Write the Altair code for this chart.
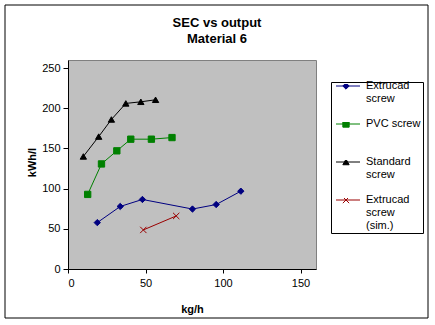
import json
import altair as alt
import pandas as pd

series = ["Extrucad screw", "PVC screw", "Standard screw", "Extrucad screw (sim.)"]
legend_lines = [["Extrucad   ", "screw"], ["PVC screw", " "], ["Standard   ", "screw"], ["Extrucad", "screw", "(sim.)"]]
colors = ["#000080", "#008000", "#000000", "#990000"]
shapes = ["diamond", "square", "triangle-up", "M-1,-1L1,1M1,-1L-1,1"]

ext_x = [18.9, 33.7, 48.0, 80.3, 95.6, 111.5]
ext_y = [57.7, 77.8, 86.5, 74.6, 80.2, 96.8]
pvc_x = [12.7, 21.6, 31.5, 40.5, 53.8, 67.1]
pvc_y = [92.8, 130.7, 147.0, 161.5, 161.5, 163.5]
std_x = [9.9, 19.8, 28.0, 37.3, 47.0, 56.5]
std_y = [140.0, 164.7, 186.0, 206.0, 208.0, 210.5]
sim_x = [48.6, 69.8]
sim_y = [48.6, 66.0]

x_ticks = [0, 50, 100, 150]
y_ticks = [0, 50, 100, 150, 200, 250]

rows = []
for name, xs, ys in zip(series, [ext_x, pvc_x, std_x, sim_x], [ext_y, pvc_y, std_y, sim_y]):
    for i, (a, b) in enumerate(zip(xs, ys)):
        rows.append({"series": name, "series_line": name, "idx": i, "x": a, "y": b})
df = pd.DataFrame(rows)

FONT = "Liberation Sans"
label_expr = "{" + ",".join(json.dumps(s) + ":" + json.dumps(l) for s, l in zip(series, legend_lines)) + "}[datum.label]"

xenc = alt.X("x:Q", scale=alt.Scale(domain=[0, 150]),
             axis=alt.Axis(values=x_ticks, title="kg/h", grid=False, domainColor="black", tickColor="black",
                           tickSize=4, labelPadding=4, titleX=124, titleY=40, titleBaseline="middle"))
yenc = alt.Y("y:Q", scale=alt.Scale(domain=[0, 250]),
             axis=alt.Axis(values=y_ticks, title="kWh/l", grid=False, domainColor="black", tickColor="black",
                           tickSize=5, labelPadding=3, titleX=-36, titleY=102, titleBaseline="middle",
                           titleAngle=-90))

scale_c = alt.Scale(domain=series, range=colors)
scale_s = alt.Scale(domain=series, range=shapes)

common_leg = dict(orient="none", legendX=263, legendY=22, title=None, labelExpr=label_expr,
                  labelFont=FONT, labelFontSize=11, rowPadding=14, padding=2, clipHeight=4)

line_leg = alt.Legend(symbolType="stroke", symbolSize=576, symbolStrokeWidth=1, symbolOffset=2.5,
                      labelOffset=7, labelColor="transparent", **common_leg)
pt_leg = alt.Legend(symbolSize=40, symbolOffset=7.5, labelOffset=14.5, labelColor="black",
                    strokeColor="black", symbolStrokeWidth=1, **common_leg)

base = alt.Chart(df)
lines = base.mark_line(strokeWidth=1).encode(
    x=xenc, y=yenc,
    color=alt.Color("series_line:N", scale=scale_c, legend=line_leg),
    order="idx:O",
)
points = base.mark_point(filled=True, opacity=1, strokeWidth=1, size=40).encode(
    x="x:Q", y="y:Q",
    fill=alt.Fill("series:N", scale=scale_c, legend=pt_leg),
    stroke=alt.Stroke("series:N", scale=scale_c, legend=pt_leg),
    shape=alt.Shape("series:N", scale=scale_s, legend=pt_leg),
)
frame = alt.Chart(pd.DataFrame({"a": [0]})).mark_rect(fill="transparent", stroke="black", strokeWidth=1).encode(
    x=alt.value(-63), x2=alt.value(360), y=alt.value(-55), y2=alt.value(258))

chart = alt.layer(lines, points, frame).resolve_scale(color="independent").properties(
    width=248, height=209,
    view=alt.ViewBackground(fill="#c0c0c0", stroke="#808080"),
    title=alt.TitleParams(["SEC vs output", "Material 6"], font=FONT, fontSize=13, fontWeight="bold",
                          anchor="middle", frame="group", dx=25, offset=-41, lineHeight=16),
    autosize=alt.AutoSizeParams(type="none"),
    padding={"left": 68, "top": 60, "right": 119, "bottom": 56},
).configure_view(fill="#c0c0c0", stroke="#808080").configure_axis(
    labelFont=FONT, labelFontSize=11, titleFont=FONT, titleFontSize=11, titleFontWeight="bold",
    labelColor="black", titleColor="black",
)

chart.save("out.html", embed_options={"renderer": "svg", "actions": False})
